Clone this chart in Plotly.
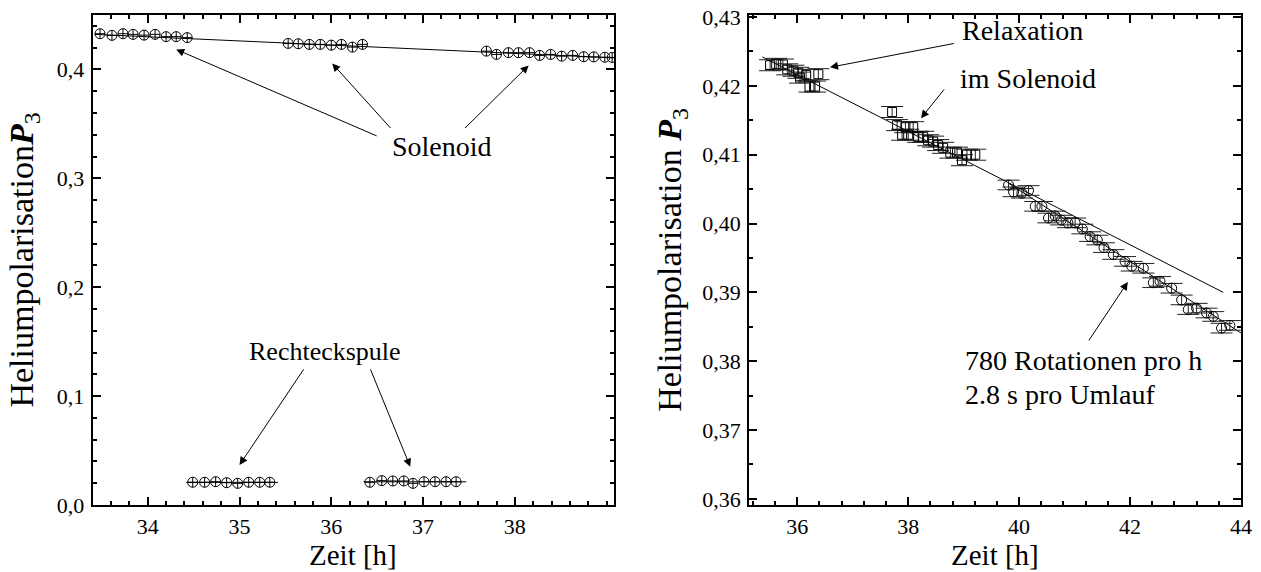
import plotly.graph_objects as go

# ---- left panel: storage in the solenoid vs. rectangular coil ----
sol_t = [33.48, 33.61, 33.73, 33.84, 33.96, 34.08, 34.20, 34.31, 34.43,
         35.53, 35.64, 35.76, 35.88, 36.00, 36.11, 36.23, 36.34,
         37.69, 37.80, 37.93, 38.04, 38.16, 38.27, 38.39, 38.51, 38.63,
         38.75, 38.86, 38.98, 39.06]
sol_p = [0.4328, 0.4313, 0.4328, 0.4322, 0.4315, 0.4322, 0.4301, 0.4301, 0.4292,
         0.4239, 0.4236, 0.4230, 0.4230, 0.4223, 0.4230, 0.4205, 0.4230,
         0.4168, 0.4138, 0.4154, 0.4154, 0.4154, 0.4129, 0.4138, 0.4122, 0.4129,
         0.4117, 0.4115, 0.4112, 0.4110]
sol_fit_t = [33.42, 39.08]
sol_fit_p = [0.4322, 0.4106]

rect1_t = [34.49, 34.62, 34.74, 34.86, 34.98, 35.10, 35.22, 35.33]
rect1_p = [0.0209, 0.0209, 0.0214, 0.0205, 0.0199, 0.0209, 0.0209, 0.0209]
rect1_fit_t = [34.42, 35.42]
rect1_fit_p = [0.0208, 0.0208]

rect2_t = [36.42, 36.55, 36.67, 36.79, 36.89, 37.01, 37.13, 37.25, 37.36]
rect2_p = [0.0209, 0.0224, 0.0221, 0.0221, 0.0199, 0.0214, 0.0214, 0.0214, 0.0214]
rect2_fit_t = [36.35, 37.47]
rect2_fit_p = [0.0213, 0.0213]

left_ticks = [34, 35, 36, 37, 38]

# ---- right panel: relaxation in the solenoid and rotating cell ----
relax_t = [35.51, 35.62, 35.74, 35.82, 35.93, 36.02, 36.05, 36.16, 36.22, 36.32, 36.38,
           37.71, 37.80, 37.89, 37.95, 38.00, 38.09, 38.18, 38.27, 38.36, 38.45,
           38.54, 38.63, 38.76, 38.88, 38.97, 39.06, 39.21]
relax_p = [0.4230, 0.4232, 0.4231, 0.4224, 0.4222, 0.4219, 0.4212, 0.4216, 0.4199, 0.4199, 0.4217,
           0.4162, 0.4143, 0.4129, 0.4140, 0.4129, 0.4140, 0.4126, 0.4126, 0.4121, 0.4119,
           0.4114, 0.4110, 0.4103, 0.4103, 0.4092, 0.4100, 0.4100]
relax_err = 0.0008

rot_t = [39.81, 39.90, 40.05, 40.17, 40.29, 40.41, 40.53, 40.65, 40.76, 40.88,
         41.01, 41.14, 41.28, 41.41, 41.53, 41.70, 41.91, 42.03, 42.24, 42.42,
         42.54, 42.75, 42.93, 43.05, 43.20, 43.38, 43.50, 43.65, 43.80]
rot_p = [0.4056, 0.4046, 0.4044, 0.4048, 0.4025, 0.4025, 0.4008, 0.4011, 0.4005, 0.4001,
         0.4001, 0.3992, 0.3981, 0.3976, 0.3965, 0.3955, 0.3945, 0.3938, 0.3935, 0.3914,
         0.3916, 0.3906, 0.3889, 0.3875, 0.3877, 0.3870, 0.3865, 0.3848, 0.3852]
rot_err = 0.0007

relax_fit_t = [35.37, 43.68]
relax_fit_p = [0.4242, 0.3900]
rot_fit_t = [39.80, 44.00]
rot_fit_p = [0.4059, 0.3841]

SERIF = "Liberation Serif, Times New Roman, Times, serif"
BLACK = "black"
LEFT_DOM = [0.0735, 0.4869]
RIGHT_DOM = [0.594, 0.9841]

fig = go.Figure()

# left panel traces
for ft, fp in [(sol_fit_t, sol_fit_p), (rect1_fit_t, rect1_fit_p), (rect2_fit_t, rect2_fit_p)]:
    fig.add_trace(go.Scatter(x=ft, y=fp, mode="lines",
                             line=dict(color=BLACK, width=1), xaxis="x", yaxis="y"))
for tt, pp in [(sol_t, sol_p), (rect1_t, rect1_p), (rect2_t, rect2_p)]:
    fig.add_trace(go.Scatter(
        x=tt, y=pp, mode="markers", xaxis="x", yaxis="y",
        marker=dict(symbol="circle-cross-open", size=10, color=BLACK,
                    line=dict(width=1, color=BLACK))))

# right panel traces
fig.add_trace(go.Scatter(x=relax_fit_t, y=relax_fit_p, mode="lines",
                         line=dict(color=BLACK, width=1), xaxis="x2", yaxis="y2"))
fig.add_trace(go.Scatter(x=rot_fit_t, y=rot_fit_p, mode="lines",
                         line=dict(color=BLACK, width=1), xaxis="x2", yaxis="y2"))
fig.add_trace(go.Scatter(
    x=relax_t, y=relax_p, mode="markers", xaxis="x2", yaxis="y2",
    marker=dict(symbol="square-open", size=9, color=BLACK, line=dict(width=1)),
    error_y=dict(type="constant", value=relax_err, color="#222", thickness=1, width=11)))
fig.add_trace(go.Scatter(
    x=rot_t, y=rot_p, mode="markers", xaxis="x2", yaxis="y2",
    marker=dict(symbol="circle-open", size=10, color=BLACK, line=dict(width=1)),
    error_y=dict(type="constant", value=rot_err, color="#222", thickness=1, width=11)))

tickfont = dict(family=SERIF, size=22, color=BLACK)
xtitlefont = dict(family=SERIF, size=29, color=BLACK)
ytitlefont = dict(family=SERIF, size=34, color=BLACK)

def axis_style(**kw):
    base = dict(showline=True, linewidth=2, linecolor=BLACK, mirror="allticks",
                ticks="inside", ticklen=8, tickwidth=1.5, tickcolor=BLACK,
                showgrid=False, zeroline=False, tickfont=tickfont, automargin=False)
    base.update(kw)
    return base

fig.update_layout(
    width=1261, height=572,
    margin=dict(l=0, r=0, t=0, b=0),
    paper_bgcolor="white", plot_bgcolor="white",
    showlegend=False,
    separators=",.",
    font=dict(family=SERIF, color=BLACK),
    xaxis=axis_style(domain=LEFT_DOM, range=[33.40, 39.08], anchor="y",
                     tickmode="array", tickvals=left_ticks, ticklabelstandoff=1,
                     minor=dict(tick0=34, dtick=0.2, ticks="inside", ticklen=4, tickcolor=BLACK)),
    yaxis=axis_style(domain=[0.1171, 0.9738], range=[0, 0.45], anchor="x",
                     tick0=0, dtick=0.1, tickformat=".1f", ticklabelstandoff=2,
                     minor=dict(dtick=0.02, ticks="inside", ticklen=4, tickcolor=BLACK),
                     title=dict(text="Heliumpolarisation<b><i>P</i></b><sub>3</sub>",
                                font=ytitlefont, standoff=13)),
    xaxis2=axis_style(domain=RIGHT_DOM, range=[35.13, 44.0], anchor="y2",
                      tick0=36, dtick=2, ticklabelstandoff=1,
                      minor=dict(dtick=0.4, ticks="inside", ticklen=4, tickcolor=BLACK)),
    yaxis2=axis_style(domain=[0.1171, 0.9738], range=[0.3591, 0.4303], anchor="x2",
                      tick0=0.36, dtick=0.01, tickformat=".2f", ticklabelstandoff=2,
                      minor=dict(dtick=0.005, ticks="inside", ticklen=4, tickcolor=BLACK),
                      title=dict(text="Heliumpolarisation <b><i>P</i></b><sub>3</sub>",
                                 font=ytitlefont, standoff=10)),
)

annfont = dict(family=SERIF, size=28, color=BLACK)
arrow = dict(showarrow=True, arrowhead=2, arrowsize=1.6, arrowwidth=1,
             arrowcolor=BLACK, text="")

annotations = [
    # x-axis titles under each panel
    dict(x=sum(LEFT_DOM) / 2, y=0.0, xref="paper", yref="paper", xanchor="center",
         yanchor="bottom", text="Zeit [h]", showarrow=False, font=xtitlefont, borderpad=0),
    dict(x=sum(RIGHT_DOM) / 2, y=0.0, xref="paper", yref="paper", xanchor="center",
         yanchor="bottom", text="Zeit [h]", showarrow=False, font=xtitlefont, borderpad=0),
    # left panel labels and pointers
    dict(x=37.21, y=0.3292, xref="x", yref="y", text="Solenoid", showarrow=False, font=annfont),
    dict(x=34.31, y=0.4184, ax=36.51, ay=0.3384, xref="x", yref="y", axref="x", ayref="y", **arrow),
    dict(x=36.01, y=0.4055, ax=36.66, ay=0.3448, xref="x", yref="y", axref="x", ayref="y", **arrow),
    dict(x=38.15, y=0.4037, ax=37.44, ay=0.3448, xref="x", yref="y", axref="x", ayref="y", **arrow),
    dict(x=35.93, y=0.1407, xref="x", yref="y", text="Rechteckspule", showarrow=False,
         font=dict(family=SERIF, size=26, color=BLACK)),
    dict(x=35.00, y=0.0368, ax=35.71, ay=0.126, xref="x", yref="y", axref="x", ayref="y", **arrow),
    dict(x=36.86, y=0.0352, ax=36.42, ay=0.126, xref="x", yref="y", axref="x", ayref="y", **arrow),
    # right panel labels and pointers
    dict(x=40.07, y=0.4281, xref="x2", yref="y2", text="Relaxation", showarrow=False, font=annfont),
    dict(x=40.16, y=0.4211, xref="x2", yref="y2", text="im Solenoid", showarrow=False, font=annfont),
    dict(x=36.59, y=0.4227, ax=38.85, ay=0.4262, xref="x2", yref="y2", axref="x2", ayref="y2", **arrow),
    dict(x=38.23, y=0.4153, ax=38.67, ay=0.4197, xref="x2", yref="y2", axref="x2", ayref="y2", **arrow),
    dict(x=38.99, y=0.3801, xref="x2", yref="y2", xanchor="left", text="780 Rotationen pro h",
         showarrow=False, font=annfont),
    dict(x=38.99, y=0.3751, xref="x2", yref="y2", xanchor="left", text="2.8 s pro Umlauf",
         showarrow=False, font=annfont),
    dict(x=41.96, y=0.3915, ax=41.24, ay=0.3828, xref="x2", yref="y2", axref="x2", ayref="y2", **arrow),
]
fig.update_layout(annotations=annotations)

fig.write_html("out.html")
